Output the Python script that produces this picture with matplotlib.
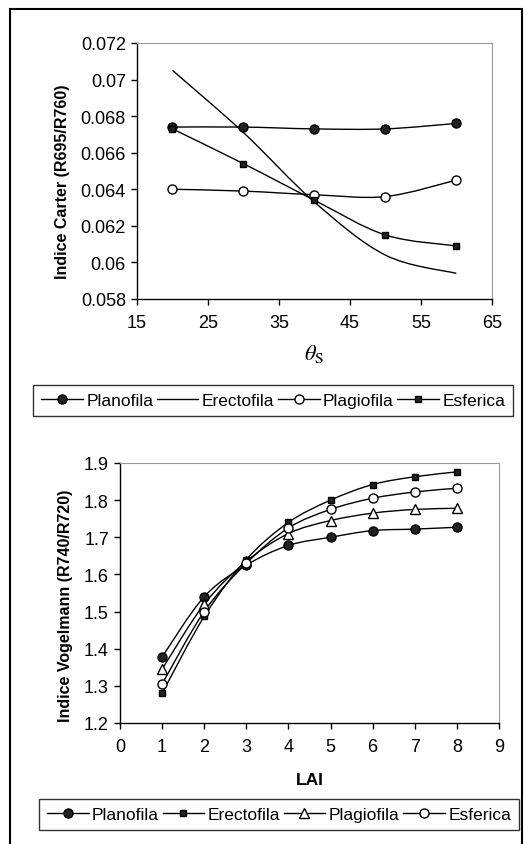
import numpy as np
import matplotlib
matplotlib.use('Agg')
import matplotlib.pyplot as plt
from matplotlib.path import Path
from matplotlib.patches import PathPatch, Rectangle
from matplotlib.lines import Line2D

plt.rcParams['font.family'] = ['Liberation Sans', 'DejaVu Sans']
plt.rcParams['mathtext.fontset'] = 'stix'

# top chart: Carter index vs solar zenith angle
theta = [20, 30, 40, 50, 60]
carter_planofila = [0.0674, 0.0674, 0.0673, 0.0673, 0.0676]
carter_erectofila = [0.0705, 0.0671, 0.0633, 0.0604, 0.0594]
carter_plagiofila = [0.0640, 0.0639, 0.0637, 0.0636, 0.0645]
carter_esferica = [0.0673, 0.0654, 0.0634, 0.0615, 0.0609]

# bottom chart: Vogelmann index vs LAI
lai = [1, 2, 3, 4, 5, 6, 7, 8]
vog_planofila = [1.378, 1.540, 1.625, 1.678, 1.700, 1.718, 1.722, 1.727]
vog_erectofila = [1.280, 1.487, 1.640, 1.740, 1.800, 1.842, 1.863, 1.876]
vog_plagiofila = [1.345, 1.520, 1.635, 1.710, 1.745, 1.765, 1.775, 1.778]
vog_esferica = [1.305, 1.500, 1.630, 1.725, 1.775, 1.805, 1.822, 1.832]


def smooth_line(ax, x, y):
    # excel-style smoothed line as cubic bezier through the points
    x = np.asarray(x, float)
    y = np.asarray(y, float)
    n = len(x)
    verts = [(x[0], y[0])]
    codes = [Path.MOVETO]
    for i in range(n - 1):
        i0 = max(i - 1, 0)
        i3 = min(i + 2, n - 1)
        c1 = (x[i] + (x[i + 1] - x[i0]) / 6, y[i] + (y[i + 1] - y[i0]) / 6)
        c2 = (x[i + 1] - (x[i3] - x[i]) / 6, y[i + 1] - (y[i3] - y[i]) / 6)
        verts += [c1, c2, (x[i + 1], y[i + 1])]
        codes += [Path.CURVE4] * 3
    ax.add_patch(PathPatch(Path(verts, codes), fill=False, lw=1.0, color='black'))


def style_axes(ax):
    for s in ['top', 'right']:
        ax.spines[s].set_color('#999999')
        ax.spines[s].set_linestyle((0, (1, 1)))
        ax.spines[s].set_linewidth(0.8)
    for s in ['left', 'bottom']:
        ax.spines[s].set_linewidth(1.0)
    ax.tick_params(direction='out', length=4, width=1, labelsize=13, pad=4)
    ax.tick_params(axis='x', pad=7)


def add_legend(handles, anchor):
    leg = fig.legend(handles=handles, ncol=4, loc='center', bbox_to_anchor=anchor,
                     frameon=True, fancybox=False, edgecolor='black', fontsize=12.5,
                     handlelength=2.4, handletextpad=0.2, columnspacing=0.2,
                     borderpad=0.45, borderaxespad=0)
    leg.get_frame().set_linewidth(1.0)


fig = plt.figure(figsize=(5.3, 8.45), dpi=100)

# --- top chart
ax1 = fig.add_axes([0.2585, 0.645, 0.6695, 0.303])
series1 = [
    ('Planofila', carter_planofila, dict(marker='o', mfc='#222222', ms=6.5)),
    ('Erectofila', carter_erectofila, dict(marker='None')),
    ('Plagiofila', carter_plagiofila, dict(marker='o', mfc='white', ms=6.5)),
    ('Esferica', carter_esferica, dict(marker='s', mfc='#222222', ms=5)),
]
handles1 = []
for name, vals, mk in series1:
    smooth_line(ax1, theta, vals)
    ax1.plot(theta, vals, ls='none', mec='black', mew=1, **mk)
    handles1.append(Line2D([], [], color='black', lw=1, mec='black', mew=1, label=name, **mk))
ax1.set_xlim(15, 65)
ax1.set_ylim(0.058, 0.072)
ax1.set_xticks([15, 25, 35, 45, 55, 65])
ax1.set_yticks(np.arange(0.058, 0.0721, 0.002))
ax1.set_yticklabels(['0.058', '0.06', '0.062', '0.064', '0.066', '0.068', '0.07', '0.072'])
style_axes(ax1)
ax1.set_ylabel('Indice Carter (R695/R760)', fontsize=11.5, fontweight='bold')
ax1.yaxis.set_label_coords(-0.189, 0.46)
ax1.set_xlabel(r'$\theta_{\mathrm{S}}$', fontsize=16, labelpad=8)
add_legend(handles1, (0.5155, 0.5245))

# --- bottom chart
ax2 = fig.add_axes([0.2264, 0.1432, 0.7151, 0.3077])
series2 = [
    ('Planofila', vog_planofila, dict(marker='o', mfc='#222222', ms=6.5)),
    ('Erectofila', vog_erectofila, dict(marker='s', mfc='#222222', ms=5)),
    ('Plagiofila', vog_plagiofila, dict(marker='^', mfc='white', ms=7)),
    ('Esferica', vog_esferica, dict(marker='o', mfc='white', ms=6.5)),
]
handles2 = []
for name, vals, mk in series2:
    smooth_line(ax2, lai, vals)
    ax2.plot(lai, vals, ls='none', mec='black', mew=1, **mk)
    handles2.append(Line2D([], [], color='black', lw=1, mec='black', mew=1, label=name, **mk))
ax2.set_xlim(0, 9)
ax2.set_ylim(1.2, 1.9)
ax2.set_xticks(range(0, 10))
ax2.set_yticks(np.arange(1.2, 1.91, 0.1))
ax2.set_yticklabels(['1.2', '1.3', '1.4', '1.5', '1.6', '1.7', '1.8', '1.9'])
style_axes(ax2)
ax2.set_ylabel('Indice Vogelmann (R740/R720)', fontsize=11.5, fontweight='bold')
ax2.yaxis.set_label_coords(-0.124, 0.454)
ax2.set_xlabel('LAI', fontsize=12.5, fontweight='bold', labelpad=12)
add_legend(handles2, (0.5264, 0.0345))

# outer frame of the page
fig.patches.append(Rectangle((0.019, -0.01), 0.966, 0.998, transform=fig.transFigure,
                             fill=False, lw=1.5, color='black'))

fig.savefig('out.png', dpi=100)
